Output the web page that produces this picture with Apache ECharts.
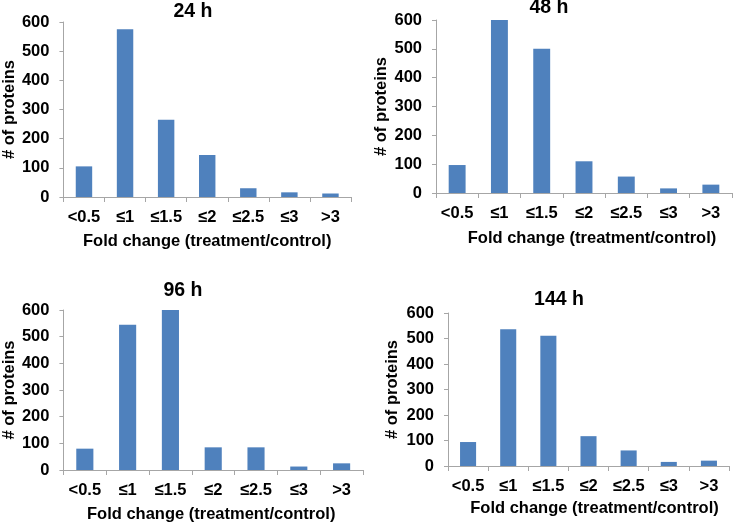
<!DOCTYPE html>
<html><head><meta charset="utf-8">
<script src="https://cdn.jsdelivr.net/npm/echarts@6/dist/echarts.min.js"></script>
<style>html,body{margin:0;padding:0;background:#fff}#c{width:733px;height:524px}</style>
</head><body><div id="c"></div>
<script>
const categories = ['<0.5', '≤1', '≤1.5', '≤2', '≤2.5', '≤3', '>3'];
const titles = ['24 h', '48 h', '96 h', '144 h'];
const values24 = [105, 575, 265, 144, 30, 16, 12];
const values48 = [97, 600, 500, 110, 57, 16, 29];
const values96 = [80, 545, 603, 85, 85, 13, 25];
const values144 = [94, 536, 511, 117, 61, 16, 21];
const yTicks = [0, 100, 200, 300, 400, 500, 600];
const xName = 'Fold change (treatment/control)';
const yName = '# of proteins';

const allValues = [values24, values48, values96, values144];
const font = 'Arial, "Liberation Sans", sans-serif';
const fs = 16.5;
const grids = [
  {left: 63, right: 382, top: 22, bottom: 327},
  {left: 436, right: 1, top: 20, bottom: 331},
  {left: 62, right: 370, top: 310, bottom: 54},
  {left: 448, right: 4, top: 313, bottom: 58}
];
const titlePos = [[193, 2], [549, -2], [183, 281], [559, 290]];
const yNameGap = [42, 46, 37, 47];
const xNameGap = [36, 37, 36, 34];
const xNameOffset = [0, 8, -2, 6];
const axisColor = '#A6A6A6';

const chart = echarts.init(document.getElementById('c'));
chart.setOption({
  animation: false,
  backgroundColor: '#fff',
  title: titles.map((t, i) => ({
    text: t, left: titlePos[i][0], top: titlePos[i][1], textAlign: 'center', padding: 0,
    textStyle: {fontFamily: font, fontWeight: 'bold', fontSize: 19.5, color: '#000'}
  })),
  grid: grids,
  xAxis: grids.map((g, i) => ({
    type: 'category', gridIndex: i, data: categories,
    name: xName, nameLocation: 'middle', nameGap: xNameGap[i],
    nameTextStyle: {fontFamily: font, fontWeight: 'bold', fontSize: fs, color: '#000', padding: [0, 0, 0, xNameOffset[i] * 2]},
    axisLine: {lineStyle: {color: axisColor, width: 1}},
    axisTick: {show: true, length: 5, lineStyle: {color: axisColor}, alignWithLabel: false},
    axisLabel: {fontFamily: font, fontWeight: 'bold', fontSize: fs, color: '#000', margin: 12, interval: 0},
    splitLine: {show: false}
  })),
  yAxis: grids.map((g, i) => ({
    type: 'value', gridIndex: i, min: 0, max: 600, interval: 100,
    name: yName, nameLocation: 'middle', nameGap: yNameGap[i], nameRotate: 90,
    nameTextStyle: {fontFamily: font, fontWeight: 'bold', fontSize: fs, color: '#000'},
    axisLine: {show: true, lineStyle: {color: axisColor, width: 1}},
    axisTick: {show: true, length: 4, lineStyle: {color: axisColor}},
    axisLabel: {fontFamily: font, fontWeight: 'bold', fontSize: fs, color: '#000', margin: 14},
    splitLine: {show: false}
  })),
  series: allValues.map((v, i) => ({
    type: 'bar', xAxisIndex: i, yAxisIndex: i, data: v,
    barCategoryGap: '60%',
    itemStyle: {color: '#4F81BD'}
  }))
});
</script></body></html>
